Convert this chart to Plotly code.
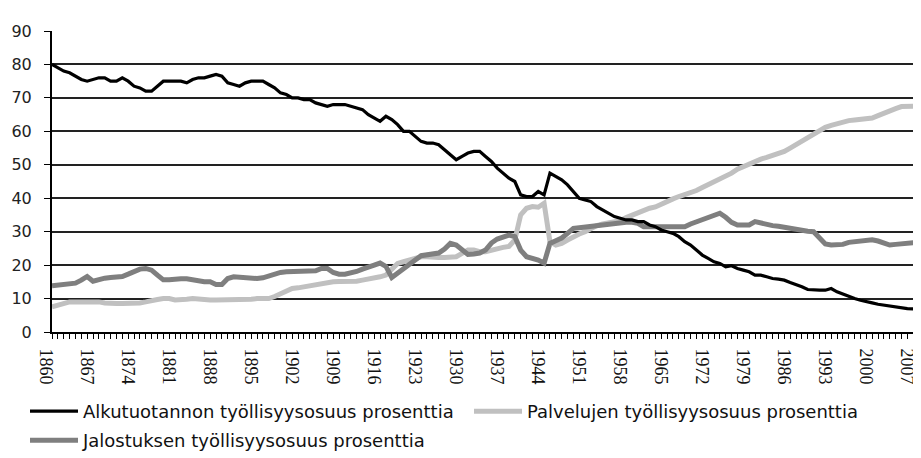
import plotly.graph_objects as go

years = list(range(1860, 2010))

alkutuotanto = [
    80, 79, 78, 77.5, 76.5, 75.5, 75, 75.5, 76, 76,
    75, 75, 76, 75, 73.5, 73, 72, 72, 73.5, 75,
    75, 75, 75, 74.5, 75.5, 76, 76, 76.5, 77, 76.5,
    74.5, 74, 73.5, 74.5, 75, 75, 75, 74, 73, 71.5,
    71, 70, 70, 69.5, 69.5, 68.5, 68, 67.5, 68, 68,
    68, 67.5, 67, 66.5, 65, 64, 63, 64.5, 63.5, 62,
    60, 60, 58.5, 57, 56.5, 56.5, 56, 54.5, 53, 51.5,
    52.5, 53.5, 54, 54, 52.5, 51, 49, 47.5, 46, 45,
    41, 40.5, 40.5, 42, 41, 47.5, 46.5, 45.5, 44, 42,
    40, 39.5, 39, 37.5, 36.5, 35.5, 34.5, 34, 33.5, 33.5,
    33, 33, 32, 31.5, 30.5, 30, 29.5, 28.5, 27, 26,
    24.5, 23, 22, 21, 20.5, 19.5, 19.8, 19, 18.5, 18,
    17, 17, 16.5, 16, 15.8, 15.5, 14.8, 14.2, 13.5, 12.7,
    12.5, 12.5, 12.5, 13, 12, 11.3, 10.5, 10, 9.5, 9,
    8.7, 8.3, 8, 7.7, 7.5, 7.3, 7, 6.9, 6.8, 6.7,
]

palvelut = [
    7.5, 8, 8.5, 9, 9, 9, 9.2, 9, 9, 8.7,
    8.5, 8.5, 8.5, 8.5, 8.5, 8.7, 9, 9.2, 9.7, 10,
    10, 9.6, 9.6, 9.8, 10, 9.8, 9.6, 9.6, 9.6, 9.6,
    9.6, 9.7, 9.8, 9.8, 9.8, 10, 10, 10, 10.6, 11.5,
    12.5, 13, 13.2, 13.5, 14, 14.2, 14.5, 15, 15, 15.1,
    15.1, 15.1, 15.2, 15.5, 15.8, 16, 16.5, 17, 19, 20.5,
    21, 21.5, 22, 22.5, 22.5, 22.3, 22.3, 22.3, 22.3, 22.5,
    23.5, 24.5, 24.5, 24, 24, 24.5, 25, 25.3, 25.6, 27.5,
    35, 37, 37.5, 37.3, 38.5, 27, 26, 26.5, 27.5, 28.5,
    29.3, 30, 31, 31.8, 32.3, 32.7, 33, 33.3, 34.2, 35,
    35.8, 36.5, 37, 37.4, 38.3, 39.2, 39.8, 40.5, 41, 41.5,
    42.3, 43.2, 44, 45, 45.8, 46.5, 47.5, 48.7, 49.5, 50.2,
    51, 51.7, 52.2, 52.7, 53.3, 54, 55, 56, 57, 58,
    59, 60.3, 61.2, 61.8, 62.4, 62.8, 63.2, 63.4, 63.6, 63.9,
    64, 64.7, 65.5, 66.2, 66.8, 67.4, 67.4, 67.4, 67.5, 69.5,
]

jalostus = [
    13.8, 14, 14.2, 14.5, 14.6, 15.5, 16.6, 15.2, 15.8, 16.1,
    16.3, 16.5, 16.6, 17.3, 18, 18.8, 19, 18.5, 17, 15.6,
    15.6, 15.9, 15.9, 15.9, 15.6, 15.2, 15, 15, 14.2, 14.2,
    16, 16.5, 16.3, 16.1, 16, 16, 16.2, 16.8, 17.5, 17.8,
    18, 18, 18, 18, 18, 18.3, 19, 19, 17.8, 17.3,
    17.3, 17.6, 18.1, 18.8, 19.6, 20, 20.6, 19.6, 16.3, 17.5,
    19, 20.3, 21.5, 22.8, 23, 23.3, 23.6, 24.8, 26.5, 26,
    24.8, 23.2, 23.3, 23.6, 24.5, 26.6, 27.8, 28.5, 29, 28.5,
    24.5, 22.5, 22, 21.5, 20.6, 26.5, 27.3, 28.1, 29.5, 31,
    31.2, 31.4, 31.6, 31.9, 32.1, 32.3, 32.5, 32.8, 32.8, 32.8,
    32.5, 31.5, 31.5, 31.5, 31.5, 31.5, 31.5, 31.5, 31.5, 32.3,
    33, 33.5, 34, 35, 35.5, 34.3, 32.8, 32, 32, 32,
    33, 32.5, 32, 31.8, 31.6, 31.3, 31, 30.5, 30.3, 30.1,
    30, 28, 26.3, 26, 26, 26.2, 26.8, 27, 27.3, 27.6,
    27.6, 27.2, 26.5, 26, 26.2, 26.4, 26.5, 26.7, 26.5, 24.2,
]

x_tick_labels = list(range(1860, 2010, 7))
y_tick_values = list(range(0, 100, 10))

name_a = "Alkutuotannon työllisyysosuus prosenttia"
name_p = "Palvelujen työllisyysosuus prosenttia"
name_j = "Jalostuksen työllisyysosuus prosenttia"

fig = go.Figure()
fig.add_trace(go.Scatter(x=years, y=palvelut, name=name_p, mode="lines",
                         line=dict(color="#c0c0c0", width=5), legend="legend3"))
fig.add_trace(go.Scatter(x=years, y=jalostus, name=name_j, mode="lines",
                         line=dict(color="#7f7f7f", width=5), legend="legend2"))
fig.add_trace(go.Scatter(x=years, y=alkutuotanto, name=name_a, mode="lines",
                         line=dict(color="#000000", width=3.2), legend="legend"))

legend_font = dict(family="DejaVu Sans", size=18, color="#111111")


def leg(xpx, ypx):
    return dict(orientation="h", xref="container", yref="container",
                x=xpx / 921, y=1 - ypx / 458, xanchor="left", yanchor="top",
                font=legend_font, bgcolor="rgba(0,0,0,0)", itemwidth=48)


fig.update_layout(
    width=921, height=458,
    margin=dict(l=44, r=0, t=23, b=134),
    paper_bgcolor="white", plot_bgcolor="white",
    showlegend=True,
    legend=leg(17, 385),
    legend2=leg(17, 414),
    legend3=leg(461, 385),
    xaxis=dict(
        range=[1860, 2009.7], tickmode="array", tickvals=x_tick_labels,
        ticktext=[str(v) for v in x_tick_labels], tickangle=90,
        ticks="outside", ticklen=5, tickcolor="#000", tickwidth=1,
        ticklabelstandoff=6, ticklabelshift=-6,
        minor=dict(dtick=1, tick0=1860, ticks="outside", ticklen=5,
                   tickcolor="#000", tickwidth=1, showgrid=False),
        showline=True, linecolor="#000", linewidth=2, showgrid=False,
        zeroline=False,
        tickfont=dict(family="Liberation Serif", size=18, color="#111"),
    ),
    yaxis=dict(
        range=[0, 90], tickvals=y_tick_values, ticks="outside", ticklen=6,
        tickcolor="#000", showline=True, linecolor="#000", linewidth=2,
        showgrid=True, gridcolor="#222222", gridwidth=1.5, zeroline=False,
        ticklabelstandoff=9,
        tickfont=dict(family="DejaVu Sans", size=16, color="#222"),
    ),
)

fig.write_html("out.html")
